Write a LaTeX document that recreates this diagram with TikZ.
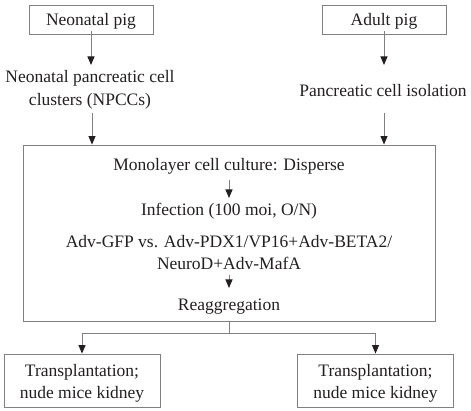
\documentclass[tikz,border=0pt]{standalone}
\usepackage{fontspec}
\setmainfont{Liberation Serif}
\usetikzlibrary{arrows.meta}
\definecolor{txt}{HTML}{231F20}
\definecolor{ln}{HTML}{808080}
\tikzset{
  box/.style={draw=ln, line width=0.9pt, rectangle, inner sep=0pt, align=center, text=txt},
  lbl/.style={inner sep=0pt, align=center, text=txt},
  arr/.style={draw=ln, line width=0.9pt, -{Triangle[length=8.5pt,width=7pt,color=txt]}},
  con/.style={draw=ln, line width=0.9pt}
}
\begin{document}
\begin{tikzpicture}[x=1pt,y=-1pt,font=\fontsize{17.5}{22.5}\selectfont]
\useasboundingbox (0,0) rectangle (471,411);
% top boxes
\node[box, minimum width=124pt, minimum height=29pt] (np) at (91,19.5) {};
\node[lbl] (npT) at (91,21.5) {Neonatal pig};
\node[box, minimum width=124pt, minimum height=29pt] (ap) at (384,19.5) {};
\node[lbl] (apT) at (384,21.5) {Adult pig};
% intermediate texts
\node[lbl] (npcc) at (90,90) {Neonatal pancreatic cell\\clusters (NPCCs)};
\node[lbl] (pci) at (383,91) {Pancreatic cell isolation};
% main box
\node[box, minimum width=412pt, minimum height=176pt] (main) at (229,233) {};
\node[lbl] (t1) at (229,166) {Monolayer cell culture: Disperse};
\node[lbl] (t2) at (229,211) {Infection (100 moi, O/N)};
\node[lbl] (t3) at (229,252.5) {Adv-GFP vs. Adv-PDX1/VP16+Adv-BETA2/\\NeuroD+Adv-MafA};
\node[lbl] (t4) at (229,307) {Reaggregation};
% bottom boxes
\node[box, minimum width=156pt, minimum height=53pt] (bl) at (82,380.5) {};
\node[lbl] (blT) at (82,383.5) {Transplantation;\\nude mice kidney};
\node[box, minimum width=156pt, minimum height=53pt] (br) at (375.5,380.5) {};
\node[lbl] (brT) at (375.5,383.5) {Transplantation;\\nude mice kidney};
% helper coordinates
\coordinate (npA) at ([yshift=3pt]np.south);
\coordinate (apA) at ([yshift=3pt]ap.south);
\coordinate (apE) at (384,65);
\coordinate (lS) at (92,113);
\coordinate (rS) at (384,113);
\coordinate (split) at (229,333);
% arrows
\draw[arr] (npA) -- (npA |- 0,65);
\draw[arr] (apA) -- (apE);
\draw[arr] (lS) -- (lS |- main.north);
\draw[arr] (rS) -- (rS |- main.north);
\draw[arr] (229,180) -- (229,198);
\draw[arr] (229,275) -- (229,288);
\draw[con] (main.south) -- (split);
\draw[arr] (split) -| (bl.north);
\draw[arr] (split) -| (br.north);
\end{tikzpicture}
\end{document}
